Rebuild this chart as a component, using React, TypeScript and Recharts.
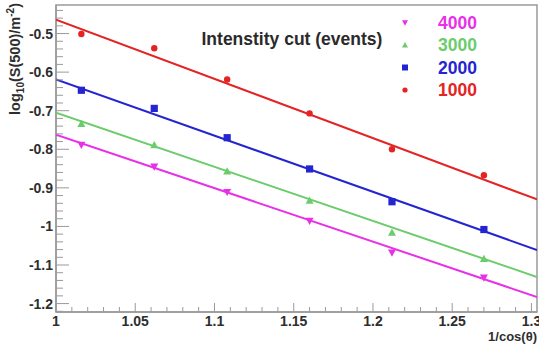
import React from 'react';
import { ComposedChart, Scatter, XAxis, YAxis, ReferenceArea, Legend } from 'recharts';

// ---- data ----
const cosTheta = [1.016, 1.062, 1.108, 1.16, 1.212, 1.27];
const cut4000 = [-0.789, -0.845, -0.911, -0.986, -1.068, -1.133];
const cut3000 = [-0.734, -0.789, -0.857, -0.933, -1.016, -1.084];
const cut2000 = [-0.647, -0.694, -0.77, -0.851, -0.936, -1.008];
const cut1000 = [-0.501, -0.538, -0.619, -0.707, -0.8, -0.867];

const fitX = [1, 1.3035];
const fit4000 = [-0.762, -1.183];
const fit3000 = [-0.705, -1.131];
const fit2000 = [-0.619, -1.061];
const fit1000 = [-0.464, -0.93];

const seriesNames = ['4000', '3000', '2000', '1000'];

const xMajorTicks = [1, 1.05, 1.1, 1.15, 1.2, 1.25, 1.3];
const xMajorLabels = ['1', '1.05', '1.1', '1.15', '1.2', '1.25', '1.3'];
const yMajorTicks = [-1.2, -1.1, -1, -0.9, -0.8, -0.7, -0.6, -0.5];
const yMajorLabels = ['-1.2', '-1.1', '-1', '-0.9', '-0.8', '-0.7', '-0.6', '-0.5'];

const X_DOMAIN: [number, number] = [1, 1.3035];
const Y_DOMAIN: [number, number] = [-1.2218, -0.426];

// minor ticks
const xTicks: number[] = [];
for (let i = 0; i <= 30; i++) xTicks.push(Math.round((1 + i * 0.01) * 1000) / 1000);
const yTicks: number[] = [];
for (let i = 0; i <= 39; i++) yTicks.push(Math.round((-1.22 + i * 0.02) * 1000) / 1000);

const toPts = (xs: number[], ys: number[]) => xs.map((x, i) => ({ x, y: ys[i] }));

const C_MAG = '#e830e8';
const C_GRN = '#6ccc6c';
const C_BLU = '#2424d0';
const C_RED = '#e42424';
const colors = [C_MAG, C_GRN, C_BLU, C_RED];

const FONT = '"Liberation Sans", Arial, Helvetica, sans-serif';
const AXIS_C = '#9a9a9a';
const TEXT_C = '#2e2e2e';

const isMajor = (v: number, majors: number[]) => majors.findIndex((m) => Math.abs(m - v) < 1e-6);

const XTick = (props: any) => {
  const { x, y, payload } = props;
  const idx = isMajor(payload.value, xMajorTicks);
  const len = idx >= 0 ? 9 : 5;
  return (
    <g>
      <line x1={x} x2={x} y1={y} y2={y - len} stroke={AXIS_C} strokeWidth={1} />
      {idx >= 0 && (
        <text x={x} y={y + 14} textAnchor="middle" fontFamily={FONT} fontWeight="bold" fontSize={14} fill={TEXT_C}>
          {xMajorLabels[idx]}
        </text>
      )}
    </g>
  );
};

const YTick = (props: any) => {
  const { x, y, payload } = props;
  const idx = isMajor(payload.value, yMajorTicks);
  const len = idx >= 0 ? 13 : 7;
  return (
    <g>
      <line x1={x} x2={x + len} y1={y} y2={y} stroke={AXIS_C} strokeWidth={1} />
      {idx >= 0 && (
        <text x={x - 3} y={y + 5} textAnchor="end" fontFamily={FONT} fontWeight="bold" fontSize={14} fill={TEXT_C}>
          {yMajorLabels[idx]}
        </text>
      )}
    </g>
  );
};

const YLabel = () => (
  <text
    transform="translate(20,3) rotate(-90)"
    x={0}
    y={0}
    textAnchor="end"
    fontFamily={FONT}
    fontWeight="bold"
    fontSize={14.5}
    fill={TEXT_C}
  >
    log
    <tspan dy={4} fontSize={10}>10</tspan>
    <tspan dy={-4}>(S(500)/m</tspan>
    <tspan dy={-6} fontSize={10}>-2</tspan>
    <tspan dy={6}>)</tspan>
  </text>
);

const XLabel = () => (
  <text x={537} y={341} textAnchor="end" fontFamily={FONT} fontWeight="bold" fontSize={13} fill={TEXT_C}>
    1/cos(θ)
  </text>
);

const markerPath = (kind: number, cx: number, cy: number, s: number) => {
  if (kind === 0) return `M${cx - s},${cy - s * 0.8} L${cx + s},${cy - s * 0.8} L${cx},${cy + s} Z`;
  if (kind === 1) return `M${cx - s},${cy + s * 0.8} L${cx + s},${cy + s * 0.8} L${cx},${cy - s} Z`;
  if (kind === 2) return `M${cx - s},${cy - s} L${cx + s},${cy - s} L${cx + s},${cy + s} L${cx - s},${cy + s} Z`;
  return '';
};

const makeShape = (kind: number, color: string, s: number) => (props: any) => {
  const { cx, cy } = props;
  if (cx == null || cy == null) return <g />;
  if (kind === 3) return <circle cx={cx} cy={cy} r={s} fill={color} />;
  return <path d={markerPath(kind, cx, cy, s)} fill={color} />;
};

const NoShape = () => <g />;

const LegendContent = () => {
  const rowsY = [22.7, 45, 67.5, 90];
  return (
    <svg width={539} height={120} style={{ display: 'block' }}>
      <text x={201.5} y={45} fontFamily={FONT} fontWeight="bold" fontSize={17.5} fill="#2a2a2a">
        Intenstity cut (events)
      </text>
      {seriesNames.map((name, i) => {
        const cy = rowsY[i];
        const cx = 405;
        return (
          <g key={name}>
            {i === 3 ? (
              <circle cx={cx} cy={cy} r={2.6} fill={colors[i]} />
            ) : (
              <path d={markerPath(i, cx, cy, 3)} fill={colors[i]} />
            )}
            <text x={438} y={cy + 6} fontFamily={FONT} fontWeight="bold" fontSize={17.5} fill={colors[i]}>
              {name}
            </text>
          </g>
        );
      })}
    </svg>
  );
};

export default function App() {
  const pts = [cut4000, cut3000, cut2000, cut1000].map((ys) => toPts(cosTheta, ys));
  const fits = [fit4000, fit3000, fit2000, fit1000].map((ys) => toPts(fitX, ys));
  const sizes = [4, 4, 3.6, 3.2];
  return (
    <div style={{ position: 'fixed', left: 0, top: 0, width: 539, height: 346, background: '#fff' }}>
      <ComposedChart width={539} height={346} margin={{ top: 5, right: 2, bottom: 0, left: 0 }}>
        <ReferenceArea
          x1={X_DOMAIN[0]}
          x2={X_DOMAIN[1]}
          y1={Y_DOMAIN[0]}
          y2={Y_DOMAIN[1]}
          fill="none"
          stroke={AXIS_C}
          strokeWidth={1.5}
          ifOverflow="extendDomain"
        />
        <XAxis
          type="number"
          dataKey="x"
          domain={X_DOMAIN}
          allowDataOverflow
          ticks={xTicks}
          interval={0}
          tickLine={false}
          tickSize={0}
          tickMargin={0}
          tick={<XTick />}
          axisLine={{ stroke: AXIS_C, strokeWidth: 1.5 }}
          height={34}
          label={<XLabel />}
        />
        <YAxis
          type="number"
          dataKey="y"
          domain={Y_DOMAIN}
          allowDataOverflow
          ticks={yTicks}
          interval={0}
          tickLine={false}
          tickSize={0}
          tickMargin={0}
          tick={<YTick />}
          axisLine={{ stroke: AXIS_C, strokeWidth: 1.5 }}
          width={56}
          label={<YLabel />}
        />
        {fits.map((d, i) => (
          <Scatter
            key={'fit' + i}
            data={d}
            line={{ stroke: colors[i], strokeWidth: 2 }}
            shape={NoShape}
            isAnimationActive={false}
            legendType="none"
          />
        ))}
        {pts.map((d, i) => (
          <Scatter
            key={'pts' + i}
            name={seriesNames[i]}
            data={d}
            shape={makeShape(i, colors[i], sizes[i])}
            isAnimationActive={false}
          />
        ))}
        <Legend
          layout="vertical"
          align="center"
          verticalAlign="middle"
          content={<LegendContent />}
          wrapperStyle={{ left: 0, top: 0, width: 539, height: 120 }}
        />
      </ComposedChart>
    </div>
  );
}
